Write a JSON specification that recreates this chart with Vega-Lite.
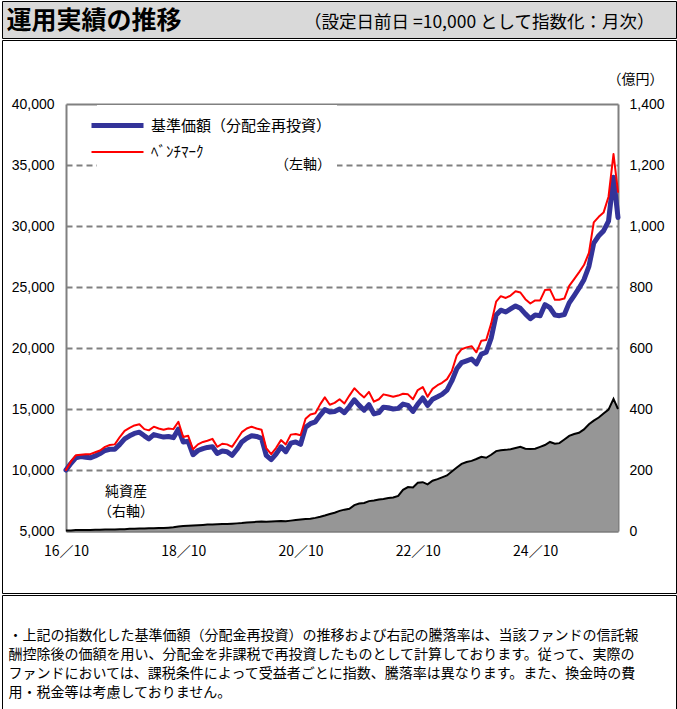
{
  "$schema": "https://vega.github.io/schema/vega-lite/v6.json",
  "padding": {"left": 1, "top": 0, "right": 2, "bottom": 2},
  "background": "white",
  "spacing": 0,
  "config": {"font": "Noto Sans CJK JP", "view": {"stroke": null}},
  "vconcat": [
    {
      "width": 674,
      "height": 37,
      "view": {"fill": "#d9d9d9", "stroke": "black", "strokeWidth": 1},
      "data": {"values": [{}]},
      "mark": {"type": "text"},
      "encoding": {
        "x": {"datum": 0.5, "type": "quantitative", "scale": {"domain": [0, 1]},
          "axis": {"orient": "top", "domain": false, "ticks": false, "labels": false, "grid": false, "minExtent": 0,
            "title": "（設定日前日 =10,000 として指数化：月次）", "titleAngle": 0, "titleX": 652, "titleY": 26, "titleAlign": "right", "titleBaseline": "alphabetic",
            "titleFontSize": 17.5, "titleFontWeight": "normal", "titleFont": "Noto Sans CJK JP", "titleColor": "black"}},
        "y": {"datum": 0.5, "type": "quantitative", "scale": {"domain": [0, 1]},
          "axis": {"orient": "left", "domain": false, "ticks": false, "labels": false, "grid": false, "minExtent": 0,
            "title": "運用実績の推移", "titleAngle": 0, "titleX": 4, "titleY": 27, "titleAlign": "left", "titleBaseline": "alphabetic",
            "titleFontSize": 25, "titleFontWeight": "bold", "titleFont": "Noto Sans CJK JP", "titleColor": "black"}},
        "text": {"value": ""}
      }
    },
    {
      "width": 674,
      "height": 553,
      "view": {"fill": "white", "stroke": "black", "strokeWidth": 1},
      "data": {"values": [
        {"d":"2016/10/01","b":10000,"r":10000,"a":2},
        {"d":"2016/11/01","b":10550,"r":10700,"a":2},
        {"d":"2016/12/01","b":11000,"r":11200,"a":3},
        {"d":"2017/01/01","b":11100,"r":11250,"a":3},
        {"d":"2017/02/01","b":11050,"r":11300,"a":3},
        {"d":"2017/03/01","b":11000,"r":11300,"a":3},
        {"d":"2017/04/01","b":11150,"r":11450,"a":4},
        {"d":"2017/05/01","b":11350,"r":11600,"a":4},
        {"d":"2017/06/01","b":11600,"r":11900,"a":5},
        {"d":"2017/07/01","b":11700,"r":12050,"a":5},
        {"d":"2017/08/01","b":11700,"r":12100,"a":5},
        {"d":"2017/09/01","b":12100,"r":12700,"a":6},
        {"d":"2017/10/01","b":12550,"r":13200,"a":6},
        {"d":"2017/11/01","b":12800,"r":13450,"a":7},
        {"d":"2017/12/01","b":13000,"r":13650,"a":7},
        {"d":"2018/01/01","b":13100,"r":13750,"a":8},
        {"d":"2018/02/01","b":12800,"r":13350,"a":8},
        {"d":"2018/03/01","b":12550,"r":13250,"a":9},
        {"d":"2018/04/01","b":12900,"r":13550,"a":9},
        {"d":"2018/05/01","b":12800,"r":13400,"a":10},
        {"d":"2018/06/01","b":12700,"r":13300,"a":10},
        {"d":"2018/07/01","b":12750,"r":13400,"a":11},
        {"d":"2018/08/01","b":12650,"r":13350,"a":12},
        {"d":"2018/09/01","b":13350,"r":13950,"a":15},
        {"d":"2018/10/01","b":12300,"r":12700,"a":16},
        {"d":"2018/11/01","b":12350,"r":12800,"a":17},
        {"d":"2018/12/01","b":11250,"r":11700,"a":18},
        {"d":"2019/01/01","b":11600,"r":12100,"a":19},
        {"d":"2019/02/01","b":11750,"r":12300,"a":20},
        {"d":"2019/03/01","b":11850,"r":12400,"a":21},
        {"d":"2019/04/01","b":11900,"r":12550,"a":21},
        {"d":"2019/05/01","b":11350,"r":11900,"a":22},
        {"d":"2019/06/01","b":11550,"r":12150,"a":23},
        {"d":"2019/07/01","b":11500,"r":12100,"a":23},
        {"d":"2019/08/01","b":11200,"r":11900,"a":24},
        {"d":"2019/09/01","b":11700,"r":12500,"a":25},
        {"d":"2019/10/01","b":12300,"r":13100,"a":26},
        {"d":"2019/11/01","b":12600,"r":13400,"a":28},
        {"d":"2019/12/01","b":12800,"r":13550,"a":29},
        {"d":"2020/01/01","b":12750,"r":13400,"a":30},
        {"d":"2020/02/01","b":12600,"r":13300,"a":31},
        {"d":"2020/03/01","b":11200,"r":11800,"a":30},
        {"d":"2020/04/01","b":10850,"r":11300,"a":31},
        {"d":"2020/05/01","b":11300,"r":11800,"a":32},
        {"d":"2020/06/01","b":11900,"r":12450,"a":33},
        {"d":"2020/07/01","b":11500,"r":12100,"a":32},
        {"d":"2020/08/01","b":12200,"r":12900,"a":34},
        {"d":"2020/09/01","b":12300,"r":12950,"a":36},
        {"d":"2020/10/01","b":12100,"r":12850,"a":38},
        {"d":"2020/11/01","b":13500,"r":14200,"a":39},
        {"d":"2020/12/01","b":13800,"r":14550,"a":40},
        {"d":"2021/01/01","b":13950,"r":14650,"a":43},
        {"d":"2021/02/01","b":14500,"r":15400,"a":47},
        {"d":"2021/03/01","b":14950,"r":15950,"a":51},
        {"d":"2021/04/01","b":14750,"r":15350,"a":56},
        {"d":"2021/05/01","b":14800,"r":15500,"a":60},
        {"d":"2021/06/01","b":15000,"r":15800,"a":66},
        {"d":"2021/07/01","b":14700,"r":15450,"a":70},
        {"d":"2021/08/01","b":15200,"r":16100,"a":73},
        {"d":"2021/09/01","b":15750,"r":16700,"a":85},
        {"d":"2021/10/01","b":15300,"r":16300,"a":90},
        {"d":"2021/11/01","b":14900,"r":15950,"a":92},
        {"d":"2021/12/01","b":15350,"r":16400,"a":98},
        {"d":"2022/01/01","b":14600,"r":15600,"a":100},
        {"d":"2022/02/01","b":14700,"r":15800,"a":103},
        {"d":"2022/03/01","b":15150,"r":16200,"a":105},
        {"d":"2022/04/01","b":15100,"r":16100,"a":108},
        {"d":"2022/05/01","b":15000,"r":16000,"a":110},
        {"d":"2022/06/01","b":15050,"r":16100,"a":115},
        {"d":"2022/07/01","b":15400,"r":16250,"a":135},
        {"d":"2022/08/01","b":15300,"r":16200,"a":144},
        {"d":"2022/09/01","b":14800,"r":15800,"a":143},
        {"d":"2022/10/01","b":15400,"r":16550,"a":158},
        {"d":"2022/11/01","b":15900,"r":16800,"a":160},
        {"d":"2022/12/01","b":15300,"r":16000,"a":153},
        {"d":"2023/01/01","b":15800,"r":16650,"a":165},
        {"d":"2023/02/01","b":16000,"r":16950,"a":170},
        {"d":"2023/03/01","b":16200,"r":17150,"a":176},
        {"d":"2023/04/01","b":16550,"r":17450,"a":182},
        {"d":"2023/05/01","b":17300,"r":18100,"a":195},
        {"d":"2023/06/01","b":18300,"r":19400,"a":208},
        {"d":"2023/07/01","b":18800,"r":19900,"a":220},
        {"d":"2023/08/01","b":18950,"r":20050,"a":226},
        {"d":"2023/09/01","b":19100,"r":20150,"a":230},
        {"d":"2023/10/01","b":18700,"r":19650,"a":236},
        {"d":"2023/11/01","b":19500,"r":20600,"a":243},
        {"d":"2023/12/01","b":19650,"r":20650,"a":240},
        {"d":"2024/01/01","b":20800,"r":22000,"a":250},
        {"d":"2024/02/01","b":22700,"r":23800,"a":262},
        {"d":"2024/03/01","b":23100,"r":24250,"a":265},
        {"d":"2024/04/01","b":22950,"r":24100,"a":266},
        {"d":"2024/05/01","b":23200,"r":24300,"a":268},
        {"d":"2024/06/01","b":23450,"r":24650,"a":272},
        {"d":"2024/07/01","b":23250,"r":24550,"a":276},
        {"d":"2024/08/01","b":22800,"r":24000,"a":270},
        {"d":"2024/09/01","b":22400,"r":23650,"a":269},
        {"d":"2024/10/01","b":22700,"r":23900,"a":270},
        {"d":"2024/11/01","b":22650,"r":23900,"a":276},
        {"d":"2024/12/01","b":23550,"r":24750,"a":282},
        {"d":"2025/01/01","b":23300,"r":24800,"a":292},
        {"d":"2025/02/01","b":22700,"r":23950,"a":286},
        {"d":"2025/03/01","b":22650,"r":23950,"a":288},
        {"d":"2025/04/01","b":22750,"r":24050,"a":300},
        {"d":"2025/05/01","b":23700,"r":25100,"a":312},
        {"d":"2025/06/01","b":24300,"r":25650,"a":318},
        {"d":"2025/07/01","b":24900,"r":26200,"a":322},
        {"d":"2025/08/01","b":25600,"r":26800,"a":333},
        {"d":"2025/09/01","b":26700,"r":27800,"a":350},
        {"d":"2025/10/01","b":28600,"r":30300,"a":362},
        {"d":"2025/11/01","b":29200,"r":30750,"a":372},
        {"d":"2025/12/01","b":29600,"r":31100,"a":385},
        {"d":"2026/01/01","b":30400,"r":32400,"a":398},
        {"d":"2026/02/01","b":34000,"r":35900,"a":433},
        {"d":"2026/03/01","b":30700,"r":32800,"a":400}
      ]},
      "layer": [
        {
          "layer": [
            {
              "mark": {"type": "area", "color": "#969696", "opacity": 1, "fillOpacity": 1, "line": {"color": "black", "strokeWidth": 2}},
              "encoding": {
                "x": {"field": "d", "type": "temporal",
                  "scale": {"domain": [{"year": 2016, "month": 10, "date": 1}, {"year": 2026, "month": 3, "date": 1}], "range": [64, 616]},
                  "axis": {"orient": "bottom", "offset": -62, "title": null,
                    "values": [{"year": 2016, "month": 10, "date": 1}, {"year": 2018, "month": 10, "date": 1}, {"year": 2020, "month": 10, "date": 1}, {"year": 2022, "month": 10, "date": 1}, {"year": 2024, "month": 10, "date": 1}],
                    "format": "%y／%m", "labelFontSize": 14, "labelFont": "Noto Sans CJK JP", "labelColor": "black", "labelPadding": 18, "labelFlush": false,
                    "ticks": true, "tickSize": -5, "tickColor": "#a0a0a0", "tickWidth": 1,
                    "grid": false, "domainColor": "#808080", "domainWidth": 2, "labelOverlap": false}},
                "y": {"field": "a", "type": "quantitative",
                  "scale": {"domain": [0, 1400], "range": [491, 64]},
                  "axis": {"orient": "right", "offset": -58, "values": [0, 200, 400, 600, 800, 1000, 1200, 1400], "format": ",d",
                    "labelFontSize": 14, "labelFont": "Liberation Sans", "labelColor": "black", "labelPadding": 11, "ticks": false, "grid": false,
                    "domainColor": "#808080", "domainWidth": 2,
                    "title": "（億円）", "titleAngle": 0, "titleX": 17, "titleY": 39, "titleAlign": "center", "titleBaseline": "middle",
                    "titleFontSize": 14, "titleFontWeight": "normal", "titleFont": "Noto Sans CJK JP", "titleColor": "black"}}
              }
            },
            {
              "data": {"values": [{}]},
              "mark": {"type": "text", "align": "center", "baseline": "top", "fontSize": 14, "lineHeight": 20, "color": "black", "text": ["純資産", "（右軸）"]},
              "encoding": {
                "x": {"datum": {"year": 2017, "month": 10, "date": 10}, "type": "temporal"},
                "y": {"datum": 152, "type": "quantitative"}
              }
            }
          ]
        },
        {
          "transform": [{"fold": ["b", "r"], "as": ["s", "v"]}],
          "mark": {"type": "line", "strokeJoin": "round", "strokeCap": "round"},
          "encoding": {
            "x": {"field": "d", "type": "temporal"},
            "y": {"field": "v", "type": "quantitative",
              "scale": {"domain": [5000, 40000], "range": [491, 64]},
              "axis": {"orient": "left", "offset": -64, "values": [5000, 10000, 15000, 20000, 25000, 30000, 35000, 40000], "format": ",d",
                "labelFontSize": 14, "labelFont": "Liberation Sans", "labelColor": "black", "labelPadding": 12, "ticks": false,
                "domainColor": "#808080", "domainWidth": 2, "title": null,
                "grid": true, "gridColor": "#808080", "gridWidth": 2, "gridOpacity": 1,
                "gridDash": {"condition": {"test": "datum.value == 40000 || datum.value == 5000", "value": []}, "value": [6, 4]}}},
            "color": {"field": "s", "type": "nominal", "scale": {"domain": ["b", "r"], "range": ["#333399", "#ff0000"]},
              "legend": {"orient": "none", "legendX": 95, "legendY": 104, "padding": 5, "fillColor": "white",
                "title": "（左軸）", "titleOrient": "bottom", "titleAnchor": "end", "titlePadding": -2, "titleFontSize": 14, "titleFontWeight": "normal", "titleFont": "Noto Sans CJK JP", "titleColor": "black",
                "symbolType": "M-2,0H2", "symbolSize": 676, "rowPadding": 2, "labelOffset": 18, "labelLimit": 400,
                "labelExpr": "datum.label == 'b' ? '基準価額（分配金再投資）' : 'ﾍﾞﾝﾁﾏｰｸ'",
                "labelFontSize": 15, "labelFont": "Noto Sans CJK JP", "labelColor": "black"}},
            "strokeWidth": {"field": "s", "type": "ordinal", "scale": {"domain": ["b", "r"], "range": [5, 2]},
              "legend": {"orient": "none", "legendX": 95, "legendY": 104, "padding": 5, "fillColor": "white",
                "title": "（左軸）", "titleOrient": "bottom", "titleAnchor": "end", "titlePadding": -2, "titleFontSize": 14, "titleFontWeight": "normal", "titleFont": "Noto Sans CJK JP", "titleColor": "black",
                "symbolType": "M-2,0H2", "symbolSize": 676, "rowPadding": 2, "labelOffset": 18, "labelLimit": 400,
                "labelExpr": "datum.label == 'b' ? '基準価額（分配金再投資）' : 'ﾍﾞﾝﾁﾏｰｸ'",
                "labelFontSize": 15, "labelFont": "Noto Sans CJK JP", "labelColor": "black"}}
          }
        }
      ],
      "resolve": {"scale": {"y": "independent"}, "axis": {"y": "independent"}}
    },
    {
      "width": 674,
      "height": 115,
      "view": {"fill": "white", "stroke": "black", "strokeWidth": 1},
      "data": {"values": [{}]},
      "mark": {"type": "text"},
      "encoding": {
        "x": {"datum": 0.5, "type": "quantitative", "scale": {"domain": [0, 1]},
          "axis": {"orient": "top", "domain": false, "ticks": false, "labels": false, "grid": false, "minExtent": 0,
            "title": [
              "・上記の指数化した基準価額（分配金再投資）の推移および右記の騰落率は、当該ファンドの信託報",
              "酬控除後の価額を用い、分配金を非課税で再投資したものとして計算しております。従って、実際の",
              "ファンドにおいては、課税条件によって受益者ごとに指数、騰落率は異なります。また、換金時の費",
              "用・税金等は考慮しておりません。"],
            "titleAngle": 0, "titleX": 6, "titleY": 33, "titleAlign": "left", "titleBaseline": "top", "titleLineHeight": 19,
            "titleFontSize": 14, "titleFontWeight": "normal", "titleFont": "Noto Sans CJK JP", "titleColor": "black", "titleLimit": 0}},
        "text": {"value": ""}
      }
    }
  ]
}
